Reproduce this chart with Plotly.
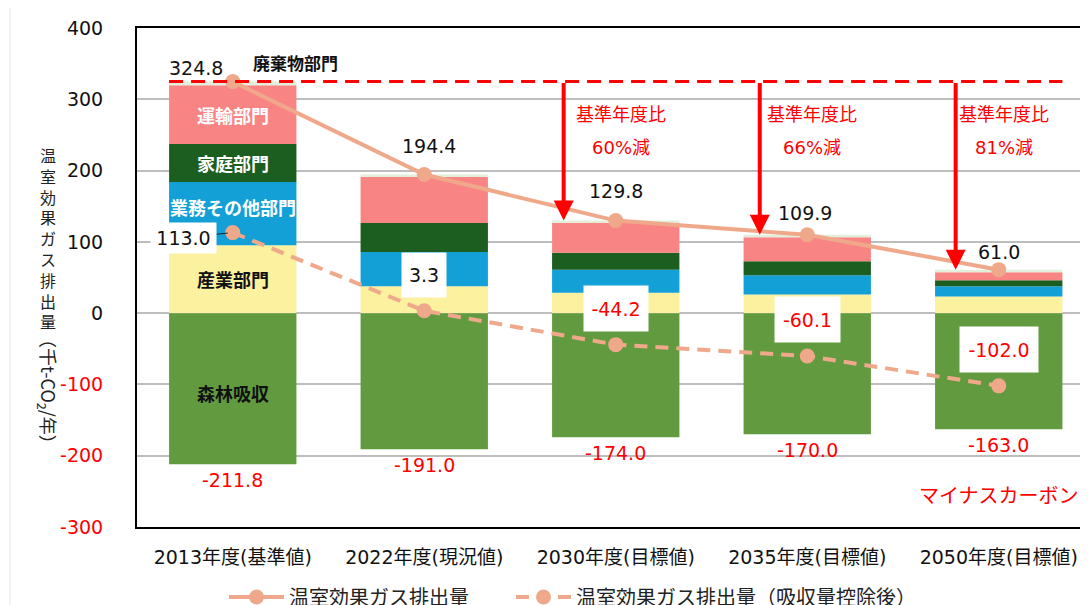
import plotly.graph_objects as go

# ---------------- data ----------------
categories = ["2013年度(基準値)", "2022年度(現況値)", "2030年度(目標値)",
              "2035年度(目標値)", "2050年度(目標値)"]
industry = [95.4, 37.9, 28.7, 26.2, 23.4]      # 産業部門
business = [88.4, 47.7, 32.3, 27.1, 14.4]      # 業務その他部門
household = [53.3, 40.7, 23.8, 19.6, 8.4]      # 家庭部門
transport = [82.7, 65.9, 42.1, 33.7, 11.2]     # 運輸部門
waste = [5.0, 2.2, 2.9, 3.3, 3.6]              # 廃棄物部門
forest = [-211.8, -191.0, -174.0, -170.0, -163.0]  # 森林吸収
total = [324.8, 194.4, 129.8, 109.9, 61.0]     # 温室効果ガス排出量
net = [113.0, 3.3, -44.2, -60.1, -102.0]       # 吸収量控除後
reduction = ["", "", "60%減", "66%減", "81%減"]
yticks = [-300, -200, -100, 0, 100, 200, 300, 400]

# ---------------- style ----------------
FONT = "DejaVu Sans, Noto Sans CJK JP, sans-serif"
JFONT = "Noto Sans CJK JP, DejaVu Sans, sans-serif"
C_IND = "#FBF19F"
C_BUS = "#12A0D7"
C_HOU = "#1B5E20"
C_TRA = "#F88584"
C_WAS = "#E2EFDA"
C_FOR = "#629B3F"
C_LINE = "#F0A88B"
RED = "#FF0000"

OFF = 8  # page body margin in the browser
W, H = 1088, 605
# target plot area on screen: left 137, top 28, bottom 527
ML, MR, MT = 137 - OFF, 0, 28 - OFF
MB = H - (527 - OFF)
PW, PH = W - ML - MR, H - MT - MB
X_PITCH = 191.5
x = list(range(len(categories)))
x_range = [-0.5, -0.5 + PW / X_PITCH]


def px2paper_x(px):  # screen px -> paper
    return (px - OFF - ML) / PW


def px2paper_y(py):
    return (H - MB - (py - OFF)) / PH


fig = go.Figure()

bar_w = 0.665
for name, vals, col in [("産業部門", industry, C_IND), ("業務その他部門", business, C_BUS),
                        ("家庭部門", household, C_HOU), ("運輸部門", transport, C_TRA),
                        ("廃棄物部門", waste, C_WAS), ("森林吸収", forest, C_FOR)]:
    fig.add_trace(go.Bar(x=x, y=vals, name=name, marker=dict(color=col, line=dict(width=0)),
                         width=bar_w, showlegend=False, hoverinfo="skip"))

fig.add_trace(go.Scatter(x=x, y=total, mode="lines+markers", name="温室効果ガス排出量",
                         line=dict(color=C_LINE, width=4),
                         marker=dict(color=C_LINE, size=15), legend="legend"))
fig.add_trace(go.Scatter(x=x, y=net, mode="lines+markers", name="温室効果ガス排出量（吸収量控除後）",
                         line=dict(color=C_LINE, width=4, dash="13px,8px"),
                         marker=dict(color=C_LINE, size=15), legend="legend2"))

ann = []
shapes = []

# baseline dashed red line at base-year total
shapes.append(dict(type="line", xref="x", yref="y", x0=0 - bar_w / 2, x1=4 + bar_w / 2,
                   y0=total[0], y1=total[0], line=dict(color=RED, width=3, dash="14px,8px")))

# arrows
arrow_off = [0, 0, -0.272, -0.248, -0.225]
for i in range(2, 5):
    ann.append(dict(x=x[i] + arrow_off[i], y=total[i], ax=x[i] + arrow_off[i], ay=total[0],
                    xref="x", yref="y", axref="x", ayref="y", text="", showarrow=True,
                    arrowhead=2, arrowsize=1.0, arrowwidth=4, arrowcolor=RED, standoff=0))
    ann.append(dict(x=x[i], y=281, xref="x", yref="y", text="基準年度比", showarrow=False,
                    xshift=5, font=dict(family=JFONT, size=18, color=RED)))
    ann.append(dict(x=x[i], y=232, xref="x", yref="y", text=reduction[i], showarrow=False,
                    xshift=5, font=dict(family=FONT, size=18, color=RED)))

# total labels
tx = [-37, 5, 0, -2, 0]
ty = [14, 29, 30, 22, 18]
for i in x:
    ann.append(dict(x=x[i], y=total[i], xref="x", yref="y", text=f"{total[i]:.1f}",
                    showarrow=False, xshift=tx[i], yshift=ty[i],
                    font=dict(family=FONT, size=19, color="#111111")))

# net labels in white boxes
bw = [65, 44, 64, 65, 78]
bh = [30, 44, 45, 45, 45]
for i in x:
    col = RED if net[i] < 0 else "#111111"
    if i == 0:
        ann.append(dict(x=x[i], y=net[i], xref="x", yref="y", text=f"{net[i]:.1f}",
                        showarrow=True, ax=-49, ay=5, arrowhead=0, arrowwidth=1,
                        arrowcolor="#222222", standoff=5, bgcolor="white", width=bw[i], height=bh[i],
                        borderpad=0, font=dict(family=FONT, size=19, color=col)))
    else:
        ann.append(dict(x=x[i], y=net[i], xref="x", yref="y", text=f"{net[i]:.1f}",
                        showarrow=False, yshift=36, bgcolor="white", width=bw[i], height=bh[i],
                        borderpad=0, font=dict(family=FONT, size=19, color=col)))

# forest labels below bars
for i in x:
    ann.append(dict(x=x[i], y=forest[i], xref="x", yref="y", text=f"{forest[i]:.1f}",
                    showarrow=False, yanchor="top", yshift=-3,
                    font=dict(family=FONT, size=19, color=RED)))

# sector labels on the base-year bar
mid = lambda lo, v: lo + v / 2
ann.append(dict(x=0, y=mid(0, industry[0]), text="<b>産業部門</b>", showarrow=False,
                font=dict(family=JFONT, size=18, color="#111111")))
lo = industry[0]
ann.append(dict(x=0, y=mid(lo, business[0]), text="<b>業務その他部門</b>", showarrow=False, yshift=7,
                font=dict(family=JFONT, size=18, color="white")))
lo += business[0]
ann.append(dict(x=0, y=mid(lo, household[0]), text="<b>家庭部門</b>", showarrow=False,
                font=dict(family=JFONT, size=18, color="white")))
lo += household[0]
ann.append(dict(x=0, y=mid(lo, transport[0]), text="<b>運輸部門</b>", showarrow=False,
                font=dict(family=JFONT, size=18, color="white")))
ann.append(dict(x=0, y=total[0], text="<b>廃棄物部門</b>", showarrow=False, xshift=63, yshift=19,
                font=dict(family=JFONT, size=17, color="#111111")))
ann.append(dict(x=0, y=forest[0] / 2, text="<b>森林吸収</b>", showarrow=False, yshift=-4,
                font=dict(family=JFONT, size=18, color="#111111")))

ann.append(dict(x=4, y=-255, xref="x", yref="y", text="マイナスカーボン", showarrow=False,
                font=dict(family=JFONT, size=20, color=RED)))

# vertical y-axis title (upright CJK characters, rotated parenthetical)
title_chars = "温室効果ガス排出量"
ann.append(dict(xref="paper", yref="paper", x=px2paper_x(48), y=px2paper_y(141),
                text="<br>".join(title_chars), showarrow=False, xanchor="center", yanchor="top",
                align="center", font=dict(family=JFONT, size=16, color="#222222")))
ann.append(dict(xref="paper", yref="paper", x=px2paper_x(48), y=px2paper_y(391),
                text="（千t-CO<sub>2</sub>/年）", textangle=90, showarrow=False,
                xanchor="center", yanchor="middle",
                font=dict(family=JFONT, size=18, color="#222222")))

# light outer chart-area border
shapes.append(dict(type="rect", xref="paper", yref="paper", x0=px2paper_x(10), x1=1.2,
                   y0=-0.5, y1=px2paper_y(7), line=dict(color="#E3E3E3", width=1), layer="below"))

ytext = [f"<span style='color:{RED}'>{v}</span>" if v < 0 else str(v) for v in yticks]

legend_style = dict(orientation="h", xanchor="left", yanchor="middle",
                    font=dict(family=JFONT, size=20, color="#222222"),
                    bgcolor="rgba(0,0,0,0)", itemwidth=55)

fig.update_layout(
    width=W, height=H, margin=dict(l=ML, r=MR, t=MT, b=MB, autoexpand=False),
    paper_bgcolor="white", plot_bgcolor="white",
    barmode="relative", bargap=0.335,
    font=dict(family=FONT, size=19, color="#111111"),
    annotations=ann, shapes=shapes,
    showlegend=True,
    legend=dict(x=px2paper_x(224), y=px2paper_y(597), **legend_style),
    legend2=dict(x=px2paper_x(511), y=px2paper_y(597), **legend_style),
    xaxis=dict(range=x_range, tickvals=x, ticktext=categories, showgrid=False,
               showline=True, linecolor="#000000", linewidth=2, mirror=True, ticks="",
               ticklabelstandoff=12, zeroline=False, automargin=False,
               tickfont=dict(family=FONT, size=19, color="#111111")),
    yaxis=dict(range=[-300, 400], tickvals=yticks, ticktext=ytext, showgrid=True,
               gridcolor="#BDBDBD", gridwidth=1.5, zeroline=True, zerolinecolor="#BDBDBD",
               zerolinewidth=1.5, showline=True, linecolor="#000000", linewidth=2,
               ticks="", ticklabelstandoff=28, automargin=False,
               tickfont=dict(family=FONT, size=19, color="#111111")),
)

fig.write_html("out.html")
